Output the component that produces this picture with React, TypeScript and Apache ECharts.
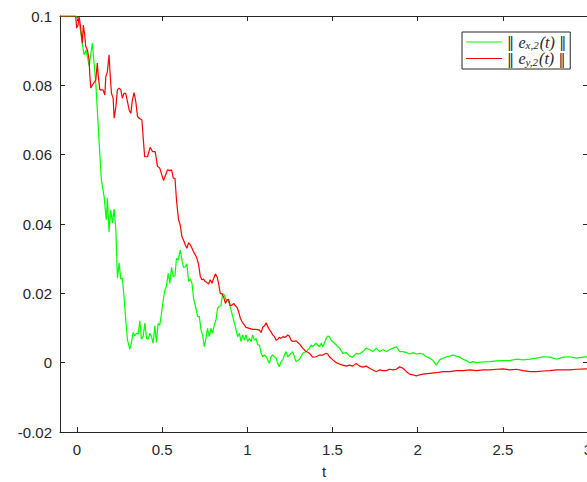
import React, { useEffect, useRef } from "react";
import * as echarts from "echarts";

const xTicks = [0, 0.5, 1, 1.5, 2, 2.5, 3];

const greenT = [
  -0.1, -0.006, 0.012, 0.028, 0.041, 0.053, 0.071, 0.09, 0.11, 0.129, 0.143, 0.159, 0.172, 0.178, 0.188, 0.198,
  0.208, 0.218, 0.228, 0.237, 0.247, 0.257, 0.266, 0.276, 0.286, 0.296, 0.31, 0.319, 0.329, 0.339, 0.349, 0.359,
  0.369, 0.378, 0.388, 0.398, 0.408, 0.418, 0.428, 0.437, 0.447, 0.457, 0.466, 0.476, 0.486, 0.496, 0.506, 0.516,
  0.525, 0.535, 0.545, 0.555, 0.565, 0.575, 0.584, 0.594, 0.606, 0.616, 0.625, 0.635, 0.645, 0.655, 0.665, 0.675,
  0.684, 0.698, 0.708, 0.718, 0.728, 0.737, 0.747, 0.757, 0.766, 0.776, 0.786, 0.796, 0.806, 0.816, 0.825, 0.835,
  0.845, 0.855, 0.865, 0.875, 0.884, 0.894, 0.904, 0.914, 0.924, 0.934, 0.943, 0.953, 0.963, 0.972, 0.982, 0.992,
  1.002, 1.012, 1.022, 1.031, 1.041, 1.051, 1.061, 1.071, 1.081, 1.09, 1.1, 1.11, 1.12, 1.129, 1.139, 1.149,
  1.159, 1.169, 1.178, 1.188, 1.198, 1.208, 1.218, 1.228, 1.237, 1.247, 1.266, 1.286, 1.306, 1.325, 1.345, 1.365,
  1.375, 1.384, 1.404, 1.414, 1.424, 1.434, 1.443, 1.453, 1.463, 1.472, 1.482, 1.492, 1.502, 1.522, 1.541, 1.561,
  1.581, 1.6, 1.619, 1.639, 1.659, 1.678, 1.698, 1.718, 1.737, 1.757, 1.776, 1.796, 1.816, 1.835, 1.855, 1.875,
  1.894, 1.914, 1.934, 1.953, 1.972, 1.992, 2.012, 2.031, 2.051, 2.071, 2.09, 2.11, 2.129, 2.149, 2.169, 2.188,
  2.208, 2.228, 2.247, 2.266, 2.286, 2.306, 2.325, 2.345, 2.384, 2.424, 2.463, 2.502, 2.541, 2.58, 2.619, 2.659,
  2.698, 2.737, 2.776, 2.816, 2.855, 2.894, 2.933, 2.972, 3.0,
];
const greenV = [
  0.1, 0.1, 0.0986, 0.0931, 0.0888, 0.0902, 0.0856, 0.0922, 0.0807, 0.0642, 0.0527, 0.0478, 0.0412, 0.0475, 0.0377, 0.0441,
  0.0403, 0.0443, 0.0383, 0.0244, 0.0288, 0.0241, 0.0244, 0.019, 0.0123, 0.0066, 0.0039, 0.0056, 0.0087, 0.0077, 0.0085, 0.0083,
  0.0121, 0.0068, 0.0075, 0.0114, 0.007, 0.0068, 0.0085, 0.0075, 0.0056, 0.0106, 0.0058, 0.0112, 0.0109, 0.0143, 0.0181, 0.021,
  0.0221, 0.0258, 0.0229, 0.0275, 0.0248, 0.025, 0.0301, 0.0296, 0.0325, 0.0296, 0.0275, 0.0276, 0.0285, 0.0234, 0.0241, 0.0229,
  0.0186, 0.0157, 0.0133, 0.0133, 0.0094, 0.008, 0.0046, 0.007, 0.0099, 0.0075, 0.0099, 0.0085, 0.0109, 0.0123, 0.0157, 0.0162,
  0.0164, 0.02, 0.0195, 0.0181, 0.0181, 0.0171, 0.0152, 0.0133, 0.0114, 0.0094, 0.0075, 0.0085, 0.0061, 0.008, 0.0065, 0.008,
  0.0061, 0.007, 0.0061, 0.008, 0.0065, 0.007, 0.0051, 0.0051, 0.0027, 0.0017, 0.0022, 0.0017, 0.0008, -0.0002, 0.0017, 0.0022,
  0.0017, 0.0013, -0.0002, -0.0012, 0.0003, 0.0008, 0.0022, 0.0032, 0.0017, 0.0022, 0.0032, 0.0003, 0.001, 0.0027, 0.0032, 0.0042,
  0.0051, 0.0046, 0.0056, 0.0051, 0.0046, 0.0056, 0.0046, 0.0058, 0.007, 0.0077, 0.0075, 0.0065, 0.0061, 0.0051, 0.0042, 0.0027,
  0.0029, 0.0019, 0.0016, 0.0027, 0.0025, 0.0032, 0.0042, 0.0037, 0.0032, 0.0042, 0.0032, 0.0037, 0.0032, 0.0037, 0.0042, 0.0046,
  0.0032, 0.0032, 0.0029, 0.0025, 0.0029, 0.0025, 0.0027, 0.0025, 0.0017, 0.0013, 0.0006, -0.0007, 0.0008, 0.0013, 0.0017, 0.0019,
  0.0022, 0.0019, 0.0016, 0.001, 0.0006, 0.0, 0.0003, 0.0, 0.0002, 0.0003, 0.0005, 0.0006, 0.0006, 0.001, 0.0008, 0.001,
  0.0013, 0.0017, 0.0016, 0.001, 0.0016, 0.0017, 0.0013, 0.0016, 0.0017,
];

const redT = [
  -0.1, -0.008, -0.002, 0.006, 0.012, 0.018, 0.025, 0.031, 0.037, 0.045, 0.051, 0.061, 0.071, 0.075, 0.081, 0.09,
  0.1, 0.11, 0.119, 0.125, 0.134, 0.143, 0.153, 0.163, 0.169, 0.178, 0.188, 0.194, 0.202, 0.212, 0.218, 0.228,
  0.237, 0.247, 0.257, 0.266, 0.276, 0.286, 0.296, 0.306, 0.316, 0.325, 0.335, 0.345, 0.355, 0.365, 0.381, 0.388,
  0.397, 0.414, 0.429, 0.443, 0.459, 0.472, 0.486, 0.498, 0.508, 0.518, 0.531, 0.545, 0.555, 0.565, 0.575, 0.584,
  0.596, 0.606, 0.616, 0.625, 0.635, 0.645, 0.655, 0.665, 0.675, 0.684, 0.694, 0.704, 0.714, 0.724, 0.734, 0.743,
  0.753, 0.763, 0.772, 0.782, 0.792, 0.802, 0.812, 0.822, 0.831, 0.841, 0.851, 0.861, 0.871, 0.881, 0.89, 0.9,
  0.91, 0.92, 0.929, 0.939, 0.949, 0.959, 0.969, 0.982, 0.992, 1.012, 1.031, 1.051, 1.071, 1.081, 1.09, 1.1,
  1.11, 1.12, 1.129, 1.139, 1.149, 1.159, 1.169, 1.178, 1.188, 1.198, 1.208, 1.218, 1.228, 1.237, 1.247, 1.257,
  1.266, 1.286, 1.306, 1.325, 1.345, 1.365, 1.384, 1.404, 1.424, 1.443, 1.463, 1.472, 1.482, 1.502, 1.522, 1.541,
  1.561, 1.581, 1.6, 1.619, 1.639, 1.659, 1.678, 1.698, 1.718, 1.737, 1.757, 1.776, 1.796, 1.816, 1.835, 1.855,
  1.875, 1.894, 1.914, 1.934, 1.953, 1.972, 1.992, 2.012, 2.031, 2.071, 2.11, 2.149, 2.188, 2.228, 2.266, 2.306,
  2.345, 2.384, 2.424, 2.463, 2.502, 2.541, 2.58, 2.619, 2.659, 2.698, 2.737, 2.776, 2.816, 2.855, 2.894, 2.933,
  3.0,
];
const redV = [
  0.1, 0.1, 0.0965, 0.0974, 0.0998, 0.0979, 0.095, 0.0921, 0.0974, 0.0945, 0.0912, 0.0902, 0.0873, 0.083, 0.0792, 0.0801,
  0.0808, 0.0815, 0.0864, 0.0825, 0.0787, 0.0787, 0.0787, 0.0772, 0.0825, 0.0839, 0.0888, 0.0835, 0.0777, 0.0763, 0.0705, 0.0738,
  0.0787, 0.0792, 0.0787, 0.0763, 0.0777, 0.0777, 0.0753, 0.0729, 0.0719, 0.0758, 0.0779, 0.0753, 0.071, 0.0705, 0.07, 0.0652,
  0.0594, 0.0594, 0.0621, 0.0609, 0.0609, 0.0567, 0.0561, 0.0541, 0.0525, 0.0539, 0.0556, 0.0554, 0.0556, 0.0532, 0.0532, 0.0469,
  0.0412, 0.0397, 0.0363, 0.0354, 0.034, 0.033, 0.0346, 0.034, 0.033, 0.032, 0.0311, 0.0301, 0.0282, 0.0248, 0.0239, 0.0241,
  0.0234, 0.0231, 0.0227, 0.0239, 0.0229, 0.0243, 0.0256, 0.0248, 0.0229, 0.02, 0.0198, 0.0189, 0.0171, 0.0181, 0.0183, 0.0164,
  0.0166, 0.0171, 0.0164, 0.016, 0.0147, 0.0128, 0.0118, 0.0109, 0.0102, 0.0099, 0.0096, 0.0096, 0.0094, 0.0087, 0.0102, 0.0106,
  0.0115, 0.0104, 0.0096, 0.0089, 0.008, 0.0075, 0.0065, 0.0067, 0.0073, 0.007, 0.0075, 0.0073, 0.0075, 0.008, 0.0076, 0.0065,
  0.0061, 0.0063, 0.0054, 0.0042, 0.0032, 0.0027, 0.0016, 0.0017, 0.0022, 0.0022, 0.0027, 0.0025, 0.0017, 0.0008, 0.0, -0.0004,
  -0.0007, -0.001, -0.0007, -0.001, -0.0002, -0.001, -0.0013, -0.001, -0.0016, -0.0021, -0.0026, -0.0021, -0.0023, -0.0023, -0.0019, -0.0021,
  -0.0019, -0.0012, -0.0016, -0.0026, -0.0033, -0.0035, -0.0038, -0.0035, -0.0033, -0.0031, -0.0029, -0.0026, -0.0026, -0.0023, -0.0023, -0.0021,
  -0.0023, -0.0021, -0.0021, -0.0019, -0.0018, -0.0021, -0.0019, -0.0023, -0.0026, -0.0026, -0.0024, -0.0023, -0.0021, -0.0021, -0.0021, -0.0019,
  -0.0018,
];

const seriesNames = ["ex", "ey"];
const seriesColors = ["#00ff00", "#ff0000"];

const axisColor = "#262626";
const labelFont = "'Liberation Sans', Arial, Helvetica, sans-serif";

export default function App() {
  const ref = useRef<HTMLDivElement>(null);
  useEffect(() => {
    if (!ref.current) return;
    const chart = echarts.init(ref.current, null, { renderer: "svg" });
    const zip = (t: number[], v: number[]) => t.map((x, i) => [x, v[i]]);
    const richMath = {
      n: { fontFamily: "'DejaVu Serif', 'Liberation Serif', serif", fontSize: 14, color: "#262626" },
      i: { fontFamily: "'Liberation Serif', 'DejaVu Serif', serif", fontStyle: "italic", fontSize: 16, color: "#262626" },
      s: { fontFamily: "'Liberation Serif', serif", fontStyle: "italic", fontSize: 11, color: "#262626", verticalAlign: "bottom", padding: [6, 1, 0, 0] },
    };
    const legendText: Record<string, string> = {
      ex: "{n|‖ }{i|e}{s|x,2}{i|(t)}{n| ‖}",
      ey: "{n|‖ }{i|e}{s|y,2}{i|(t)}{n| ‖}",
    };
    const common = {
      min: -0.1,
      max: 3,
      type: "value" as const,
      splitLine: { show: false },
      axisLine: { show: true, onZero: false, lineStyle: { color: axisColor, width: 1 } },
    };
    chart.setOption({
      animation: false,
      backgroundColor: "#ffffff",
      grid: { left: 60, top: 16, width: 528, height: 416, containLabel: false, outerBoundsMode: "none" },
      legend: {
        data: seriesNames,
        orient: "vertical",
        left: 462,
        top: 32,
        padding: [2, 4, 2, 4],
        itemGap: 0,
        itemWidth: 36,
        itemHeight: 1,
        icon: "rect",
        borderColor: axisColor,
        borderWidth: 1,
        backgroundColor: "#ffffff",
        formatter: (name: string) => legendText[name],
        textStyle: { rich: richMath, color: "#262626" },
      },
      xAxis: [
        {
          ...common,
          position: "bottom",
          name: "t",
          nameLocation: "middle",
          nameGap: 32,
          nameTextStyle: { fontFamily: labelFont, fontSize: 15, color: axisColor },
          axisTick: { show: true, inside: true, length: 5, customValues: xTicks, lineStyle: { color: axisColor } },
          axisLabel: { show: true, margin: 10, customValues: xTicks, fontFamily: labelFont, fontSize: 15, color: axisColor },
        },
        {
          ...common,
          position: "top",
          axisTick: { show: true, inside: true, length: 5, customValues: xTicks, lineStyle: { color: axisColor } },
          axisLabel: { show: false },
        },
      ],
      yAxis: [
        {
          type: "value",
          min: -0.02,
          max: 0.1,
          interval: 0.02,
          position: "left",
          splitLine: { show: false },
          axisLine: { show: true, onZero: false, lineStyle: { color: axisColor, width: 1 } },
          axisTick: { show: true, inside: true, length: 5, lineStyle: { color: axisColor } },
          axisLabel: {
            margin: 8,
            fontFamily: labelFont,
            fontSize: 15,
            color: axisColor,
            formatter: (v: number) => String(Math.round(v * 100) / 100),
          },
        },
        {
          type: "value",
          min: -0.02,
          max: 0.1,
          interval: 0.02,
          position: "right",
          splitLine: { show: false },
          axisLine: { show: true, onZero: false, lineStyle: { color: axisColor, width: 1 } },
          axisTick: { show: true, inside: true, length: 5, lineStyle: { color: axisColor } },
          axisLabel: { show: false },
        },
      ],
      series: [
        {
          name: "ex",
          type: "line",
          data: zip(greenT, greenV),
          symbol: "none",
          lineStyle: { color: seriesColors[0], width: 1.2 },
          itemStyle: { color: seriesColors[0] },
          z: 2,
        },
        {
          name: "ey",
          type: "line",
          data: zip(redT, redV),
          symbol: "none",
          lineStyle: { color: seriesColors[1], width: 1.2 },
          itemStyle: { color: seriesColors[1] },
          z: 3,
        },
      ],
    });
    return () => chart.dispose();
  }, []);
  return (
    <div
      ref={ref}
      style={{ position: "fixed", left: 0, top: 0, width: 587, height: 482, background: "#fff" }}
    />
  );
}
